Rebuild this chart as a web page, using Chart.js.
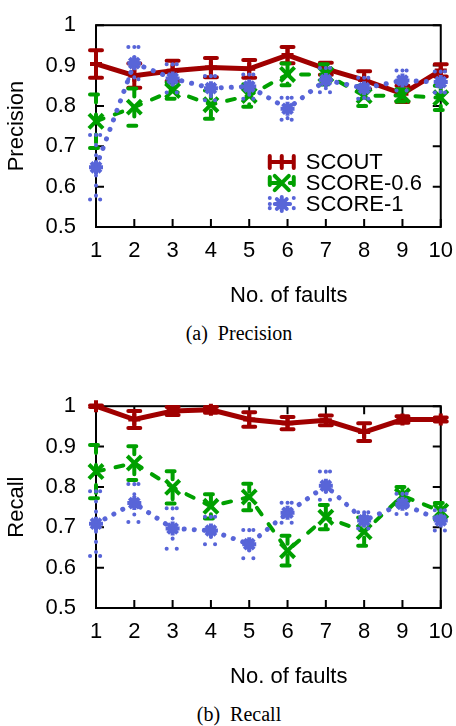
<!DOCTYPE html>
<html lang="en">
<head>
<meta charset="UTF-8">
<title>Precision and Recall vs. No. of faults</title>
<script src="https://cdn.jsdelivr.net/npm/chart.js"></script>
<style>
  body { margin: 0; background: #fff; }
  .wrap { position: absolute; left: 0; width: 456px; height: 310px; }
  #topWrap { top: 0; }
  #botWrap { top: 381px; }
  .caption {
    position: absolute; left: 139px; width: 200px; text-align: center;
    font-family: "Liberation Serif", "Times New Roman", serif;
    font-size: 20px; line-height: 24px; color: #000;
  }
</style>
</head>
<body>
<div class="wrap" id="topWrap"><canvas id="precisionChart"></canvas></div>
<div class="caption" style="top:321px">(a)&nbsp; Precision</div>
<div class="wrap" id="botWrap"><canvas id="recallChart"></canvas></div>
<div class="caption" style="top:702px">(b)&nbsp; Recall</div>
<script>
// data
const faults = [1, 2, 3, 4, 5, 6, 7, 8, 9, 10];
const yTicks = [0.5, 0.6, 0.7, 0.8, 0.9, 1];
const seriesNames = ['SCOUT', 'SCORE-0.6', 'SCORE-1'];

const scoutPrecision    = [0.904, 0.875, 0.887, 0.895, 0.892, 0.926, 0.892, 0.864, 0.830, 0.888];
const scoutPrecisionErr = [0.034, 0.030, 0.025, 0.024, 0.022, 0.020, 0.015, 0.022, 0.020, 0.015];
const score06Precision    = [0.762, 0.797, 0.838, 0.803, 0.826, 0.878, 0.878, 0.825, 0.826, 0.820];
const score06PrecisionErr = [0.066, 0.046, 0.020, 0.035, 0.028, 0.027, 0.025, 0.025, 0.015, 0.030];
const score1Precision    = [0.648, 0.906, 0.868, 0.844, 0.848, 0.793, 0.864, 0.844, 0.863, 0.859];
const score1PrecisionErr = [0.080, 0.040, 0.035, 0.030, 0.030, 0.027, 0.030, 0.026, 0.025, 0.026];

const scoutRecall    = [1.000, 0.967, 0.988, 0.991, 0.967, 0.958, 0.965, 0.936, 0.967, 0.967];
const scoutRecallErr = [0.002, 0.021, 0.010, 0.007, 0.018, 0.015, 0.012, 0.022, 0.008, 0.005];
const score06Recall    = [0.838, 0.859, 0.799, 0.752, 0.775, 0.642, 0.725, 0.689, 0.778, 0.740];
const score06RecallErr = [0.066, 0.042, 0.040, 0.030, 0.033, 0.037, 0.030, 0.035, 0.022, 0.020];
const score1Recall    = [0.709, 0.760, 0.697, 0.692, 0.658, 0.736, 0.803, 0.717, 0.758, 0.717];
const score1RecallErr = [0.080, 0.047, 0.050, 0.034, 0.035, 0.025, 0.035, 0.020, 0.025, 0.025];

const SANS = '"Liberation Sans", Arial, sans-serif';
Chart.defaults.color = '#000';
Chart.defaults.font.family = SANS;

const styles = [
  { color: '#a00000', dash: [], style: 'cross', radius: 6, order: 3, width: 5 },
  { color: '#00a000', dash: [8, 12], style: 'crossRot', radius: 10, order: 2, width: 4 },
  { color: '#5865d8', dash: [0.1, 10], style: 'star', radius: 7, order: 1, width: 5 }
];

function makeDatasets(values, errors) {
  return values.map((vals, s) => ({
    label: seriesNames[s],
    data: faults.map((f, i) => ({ x: f, y: vals[i] })),
    errors: errors[s],
    borderColor: styles[s].color,
    backgroundColor: styles[s].color,
    borderWidth: styles[s].width,
    borderDash: styles[s].dash,
    borderCapStyle: 'round',
    pointStyle: styles[s].style,
    pointRadius: styles[s].radius,
    pointBorderWidth: 4,
    pointBorderColor: styles[s].color,
    tension: 0,
    clip: false,
    order: styles[s].order
  }));
}

// box, inward ticks, x title
const frame = {
  id: 'frame',
  beforeDatasetsDraw(chart, args, opts) {
    const { ctx, chartArea: a, scales: { x, y } } = chart;
    ctx.save();
    ctx.strokeStyle = '#000';
    ctx.lineWidth = 2;
    ctx.strokeRect(a.left, a.top, a.right - a.left, a.bottom - a.top);
    ctx.beginPath();
    faults.forEach(f => {
      const px = x.getPixelForValue(f);
      ctx.moveTo(px, a.bottom); ctx.lineTo(px, a.bottom - 8);
      if (opts.topTicks) { ctx.moveTo(px, a.top); ctx.lineTo(px, a.top + 8); }
    });
    yTicks.forEach(v => {
      const py = y.getPixelForValue(v);
      ctx.moveTo(a.left, py); ctx.lineTo(a.left + 8, py);
      ctx.moveTo(a.right, py); ctx.lineTo(a.right - 8, py);
    });
    ctx.stroke();
    ctx.fillStyle = '#000';
    ctx.font = '22px ' + SANS;
    ctx.textAlign = 'center';
    ctx.textBaseline = 'middle';
    ctx.fillText('No. of faults', a.right - 152, a.bottom + 69);
    ctx.restore();
  }
};

const errorBars = {
  id: 'errorBars',
  afterDatasetDraw(chart, args) {
    const ds = chart.data.datasets[args.index];
    const y = chart.scales.y;
    const ctx = chart.ctx;
    ctx.save();
    ctx.strokeStyle = ds.borderColor;
    ctx.lineWidth = 4;
    ctx.lineCap = 'round';
    ctx.setLineDash(ds.borderDash);
    args.meta.data.forEach((pt, i) => {
      const v = ds.data[i].y, e = ds.errors[i];
      const hi = y.getPixelForValue(v + e), lo = y.getPixelForValue(v - e);
      ctx.beginPath();
      ctx.moveTo(pt.x, hi); ctx.lineTo(pt.x, lo);
      ctx.moveTo(pt.x - 6, hi); ctx.lineTo(pt.x + 6, hi);
      ctx.moveTo(pt.x - 6, lo); ctx.lineTo(pt.x + 6, lo);
      ctx.stroke();
    });
    ctx.restore();
  }
};

const insideLegend = {
  id: 'insideLegend',
  afterDraw(chart, args, opts) {
    if (!opts.show) return;
    const { ctx, chartArea: a } = chart;
    ctx.save();
    chart.data.datasets.forEach((ds, i) => {
      const yy = a.bottom - 65 + i * 21;
      const x0 = a.right - 171, x1 = a.right - 147;
      ctx.strokeStyle = ds.borderColor;
      ctx.lineWidth = 4;
      ctx.lineCap = 'round';
      ctx.setLineDash(ds.borderDash);
      ctx.beginPath();
      ctx.moveTo(x0, yy); ctx.lineTo(x1, yy);
      ctx.moveTo(x0, yy - 6); ctx.lineTo(x0, yy + 6);
      ctx.moveTo(x1, yy - 6); ctx.lineTo(x1, yy + 6);
      ctx.stroke();
      ctx.setLineDash([]);
      ctx.lineWidth = ds.pointBorderWidth;
      Chart.helpers.drawPoint(ctx, { pointStyle: ds.pointStyle, radius: ds.pointRadius, borderWidth: 4, rotation: 0 }, (x0 + x1) / 2, yy);
      ctx.fillStyle = '#000';
      ctx.font = '22px ' + SANS;
      ctx.textAlign = 'left';
      ctx.textBaseline = 'middle';
      ctx.fillText(ds.label, a.right - 135, yy + 1);
    });
    ctx.restore();
  }
};

function makeChart(id, yTitle, values, errors, showLegend, topTicks) {
  return new Chart(document.getElementById(id), {
    type: 'line',
    data: { datasets: makeDatasets(values, errors) },
    plugins: [frame, errorBars, insideLegend],
    options: {
      responsive: true,
      maintainAspectRatio: false,
      animation: false,
      layout: { padding: { top: 13, right: 14, left: 0, bottom: 0 } },
      plugins: {
        legend: { display: false },
        tooltip: { enabled: false },
        insideLegend: { show: showLegend },
        frame: { topTicks: topTicks }
      },
      scales: {
        x: {
          type: 'linear', min: 1, max: 10,
          afterBuildTicks: s => { s.ticks = faults.map(v => ({ value: v })); },
          afterFit: s => { s.height = 83; },
          grid: { display: false },
          border: { display: false },
          ticks: { font: { size: 22 }, padding: 3, maxRotation: 0 }
        },
        y: {
          min: 0.5, max: 1,
          afterBuildTicks: s => { s.ticks = yTicks.map(v => ({ value: v })); },
          afterFit: s => { s.width = 96; },
          grid: { display: false },
          border: { display: false },
          ticks: { font: { size: 22 }, padding: 12, callback: v => String(v) },
          title: { display: true, text: yTitle, font: { size: 22 }, padding: { top: 4, bottom: 0 } }
        }
      }
    }
  });
}

makeChart('precisionChart', 'Precision',
  [scoutPrecision, score06Precision, score1Precision],
  [scoutPrecisionErr, score06PrecisionErr, score1PrecisionErr], true, false);
makeChart('recallChart', 'Recall',
  [scoutRecall, score06Recall, score1Recall],
  [scoutRecallErr, score06RecallErr, score1RecallErr], false, true);
</script>
</body>
</html>
